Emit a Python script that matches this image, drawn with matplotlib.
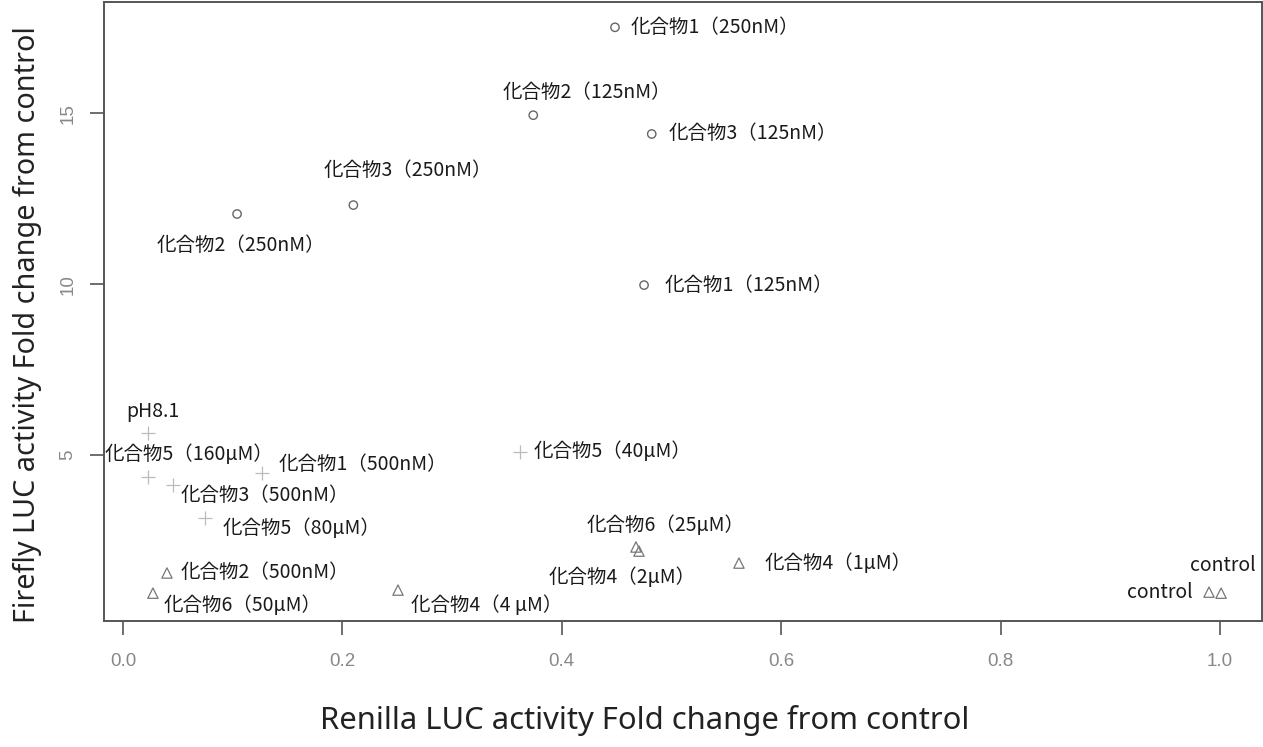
import matplotlib
matplotlib.use("Agg")
import matplotlib.pyplot as plt

plt.rcParams['font.family'] = ['Noto Sans CJK JP', 'DejaVu Sans']

# ---- data ----
circle_labels = ["化合物1（250nM）", "化合物2（125nM）", "化合物3（125nM）",
                 "化合物3（250nM）", "化合物2（250nM）", "化合物1（125nM）"]
circle_x = [0.4485, 0.374, 0.482, 0.210, 0.104, 0.475]
circle_y = [17.51, 14.94, 14.39, 12.31, 12.05, 9.97]

cross_labels = ["pH8.1", "化合物5（160μM）", "化合物1（500nM）",
                "化合物3（500nM）", "化合物5（80μM）", "化合物5（40μM）"]
cross_x = [0.0228, 0.0228, 0.1267, 0.0456, 0.0747, 0.362]
cross_y = [5.64, 4.36, 4.47, 4.12, 3.16, 5.09]

tri_labels = ["化合物6（25μM）", "化合物4（2μM）", "化合物4（1μM）",
              "化合物2（500nM）", "化合物6（50μM）", "化合物4（4 μM）",
              "control", "control"]
tri_x = [0.4676, 0.4704, 0.5615, 0.0401, 0.0273, 0.2507, 0.990, 1.001]
tri_y = [2.31, 2.19, 1.84, 1.55, 0.96, 1.05, 0.99, 0.96]

x_ticks = [0.0, 0.2, 0.4, 0.6, 0.8, 1.0]
x_ticklabels = ["0.0", "0.2", "0.4", "0.6", "0.8", "1.0"]
y_ticks = [5, 10, 15]
y_ticklabels = ["5", "10", "15"]

# label offsets in pixels (dx right, dy down) and horizontal alignment
circle_off = [(16, 0, 'left'), (54, -23, 'center'), (17, 0, 'left'),
              (54, -35, 'center'), (4, 32, 'center'), (21, 0, 'left')]
cross_off = [(5, -22, 'center'), (41, -22, 'center'), (17, -9, 'left'),
             (8, 10, 'left'), (18, 11, 'left'), (13, 0, 'left')]
tri_off = [(30, -22, 'center'), (-17, 26, 'center'), (26, 0, 'left'),
           (14, 0, 'left'), (11, 12, 'left'), (13, 15, 'left'),
           (-16, 0, 'right'), (2, -28, 'center')]

W, H = 1263, 747
fig = plt.figure(figsize=(W / 100, H / 100), dpi=100)
ax = fig.add_axes([104 / W, 1 - 621 / H, (1262 - 104) / W, (621 - 2) / H])

edge = '#555555'
ax.scatter(circle_x, circle_y, s=36, marker='o', facecolors='none',
           edgecolors='#666666', linewidths=1.0, zorder=3)
ax.scatter(cross_x, cross_y, s=90, marker='+', color='#bbbbbb',
           linewidths=0.9, zorder=3)
ax.scatter(tri_x, tri_y, s=55, marker='^', facecolors='none',
           edgecolors='#777777', linewidths=0.9, zorder=3)

pt = 0.72
fs = 14
for labels, xs, ys, offs in [(circle_labels, circle_x, circle_y, circle_off),
                             (cross_labels, cross_x, cross_y, cross_off),
                             (tri_labels, tri_x, tri_y, tri_off)]:
    for lab, x, y, (dx, dy, ha) in zip(labels, xs, ys, offs):
        ax.annotate(lab, (x, y), xytext=(dx * pt, -dy * pt),
                    textcoords='offset points', ha=ha, va='center',
                    fontsize=fs, color='#1a1a1a')

ax.set_xlim(-0.0173, 1.0383)
ax.set_ylim(0.146, 18.25)
ax.set_xticks(x_ticks)
ax.set_xticklabels(x_ticklabels, family='Liberation Sans', fontsize=13.5,
                   color='#888888')
ax.set_yticks(y_ticks)
ax.set_yticklabels(y_ticklabels, family='Liberation Sans', fontsize=13.5,
                   color='#888888', rotation=90, va='center')
ax.tick_params(axis='x', length=10, width=1.2, color=edge, pad=13)
ax.tick_params(axis='y', length=10, width=1.2, color=edge, pad=10)
for s in ax.spines.values():
    s.set_color(edge)
    s.set_linewidth(1.4)

fig.text(645 / W, 1 - 720 / H, "Renilla LUC activity Fold change from control",
         ha='center', va='center', fontsize=22.3, family='Noto Sans',
         color='#222222')
fig.text(27 / W, 1 - 325 / H, "Firefly LUC activity Fold change from control",
         ha='center', va='center', fontsize=20.7, family='Noto Sans',
         color='#222222', rotation=90)

fig.savefig('out.png', dpi=100)
